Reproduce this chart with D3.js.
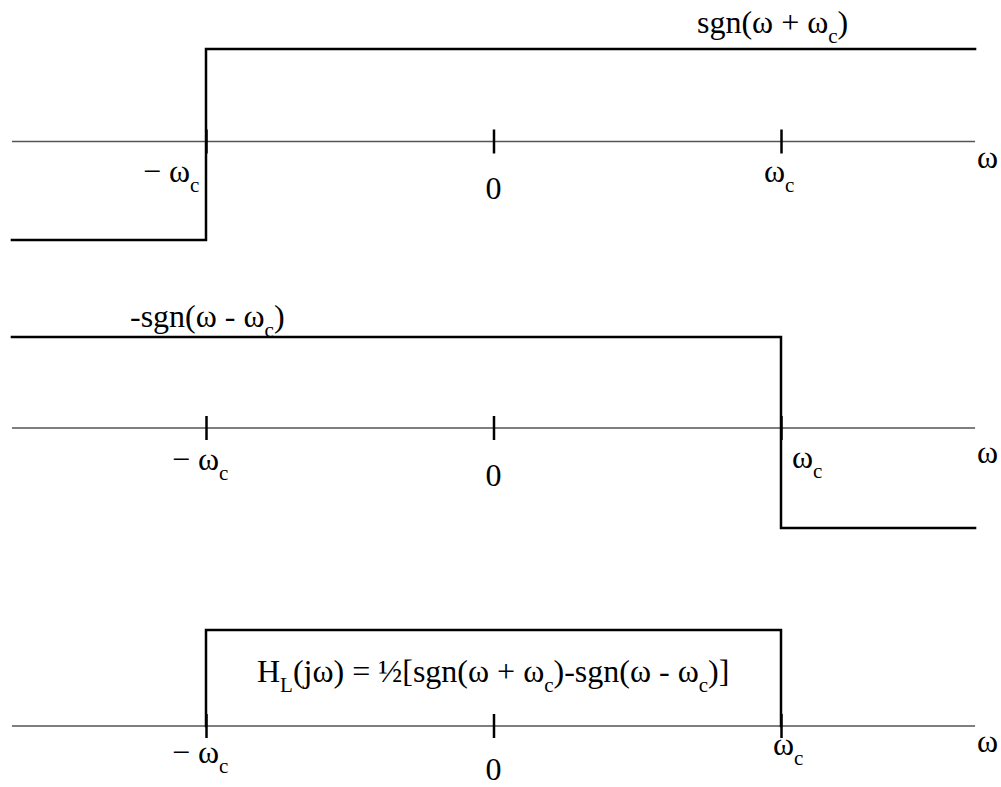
<!DOCTYPE html>
<html>
<head>
<meta charset="utf-8">
<script src="https://cdn.jsdelivr.net/npm/d3@7/dist/d3.min.js"></script>
<style>
  html, body { margin: 0; padding: 0; background: #fff; }
  svg { display: block; }
</style>
</head>
<body>
<svg id="chart" width="1001" height="787"></svg>
<script>
// Frequency axis in units of the cutoff ωc
const omegaRange = [-1.675, 1.675];
const tickValues = [-1, 0, 1];

// sgn(ω + ωc): step from -1 to +1 at ω = -ωc (drawn with a step-after curve)
const sgnPlusOmega = [-1.675, -1, 1.675];
const sgnPlusValue = [-1, 1, 1];

// -sgn(ω - ωc): step from +1 to -1 at ω = +ωc
const negSgnMinusOmega = [-1.675, 1, 1.675];
const negSgnMinusValue = [1, -1, -1];

// H_L(jω): ideal low-pass, 1 between -ωc and ωc
const lowPassOmega = [-1, -1, 1, 1];
const lowPassValue = [0, 1, 1, 0];

const SERIF = "'Liberation Serif', 'Times New Roman', Times, serif";
const FS = 32;
const SUB = 21;

const svg = d3.select("#chart");
const x = d3.scaleLinear().domain([-1, 1]).range([206, 781]);

function txt(g) {
  return g.append("text")
    .attr("font-family", SERIF)
    .attr("font-size", FS)
    .attr("fill", "#000");
}

// appends a lowered subscript and returns to the baseline
function sub(t, s, after) {
  t.append("tspan").attr("font-size", SUB).attr("dy", 10).text(s);
  t.append("tspan").attr("dy", -10).text(after || "");
}

function panel(cfg) {
  const g = svg.append("g");
  const y = d3.scaleLinear().domain([-1, 0, 1])
    .range([cfg.axisY + cfg.down, cfg.axisY, cfg.axisY - cfg.up]);

  // horizontal axis line
  g.append("line")
    .attr("x1", x(omegaRange[0])).attr("x2", x(omegaRange[1]))
    .attr("y1", y(0)).attr("y2", y(0))
    .attr("stroke", "#555").attr("stroke-width", 1.5);

  // tick marks crossing the axis
  const axis = d3.axisBottom(x).tickValues(tickValues).tickSize(24).tickFormat("");
  const ag = g.append("g").attr("transform", `translate(0,${y(0) - 12})`).call(axis);
  ag.select(".domain").remove();
  ag.selectAll(".tick line").attr("stroke", "#000").attr("stroke-width", 2.5);

  // the signal
  const pts = cfg.omega.map((w, i) => [w, cfg.value[i]]);
  const line = d3.line().x(d => x(d[0])).y(d => y(d[1])).curve(cfg.curve);
  g.append("path").attr("d", line(pts))
    .attr("fill", "none").attr("stroke", "#000").attr("stroke-width", 2.5)
    .attr("stroke-linejoin", "miter").attr("stroke-linecap", "square");

  // tick labels
  const lm = txt(g).attr("x", x(-1) + cfg.negDx).attr("y", cfg.negY);
  lm.append("tspan").text("− ω");
  sub(lm, "c");
  txt(g).attr("text-anchor", "middle").attr("x", x(0)).attr("y", cfg.zeroY).text("0");
  const lp = txt(g).attr("x", x(1) + cfg.posDx).attr("y", cfg.posY);
  lp.append("tspan").text("ω");
  sub(lp, "c");
  txt(g).attr("x", x(omegaRange[1]) + 2).attr("y", cfg.wY).text("ω");

  // curve label
  cfg.label(txt(g).attr("x", cfg.labelX).attr("y", cfg.labelY));
}

panel({
  axisY: 141.5, up: 92.5, down: 98.5,
  omega: sgnPlusOmega, value: sgnPlusValue, curve: d3.curveStepAfter,
  negDx: -63, negY: 182, zeroY: 199, posDx: -17, posY: 182, wY: 168,
  labelX: 697, labelY: 33,
  label: t => {
    t.append("tspan").text("sgn(ω + ω");
    sub(t, "c", ")");
  }
});

panel({
  axisY: 428, up: 91, down: 100,
  omega: negSgnMinusOmega, value: negSgnMinusValue, curve: d3.curveStepAfter,
  negDx: -34, negY: 470, zeroY: 486, posDx: 11, posY: 468, wY: 463,
  labelX: 130, labelY: 327,
  label: t => {
    t.append("tspan").text("-sgn(ω - ω");
    sub(t, "c", ")");
  }
});

panel({
  axisY: 726, up: 96, down: 96,
  omega: lowPassOmega, value: lowPassValue, curve: d3.curveLinear,
  negDx: -34, negY: 763, zeroY: 780, posDx: -8, posY: 755, wY: 752,
  labelX: 257, labelY: 682,
  label: t => {
    t.append("tspan").text("H");
    sub(t, "L", "(jω) = ½[sgn(ω + ω");
    sub(t, "c", ")-sgn(ω - ω");
    sub(t, "c", ")]");
  }
});
</script>
</body>
</html>
